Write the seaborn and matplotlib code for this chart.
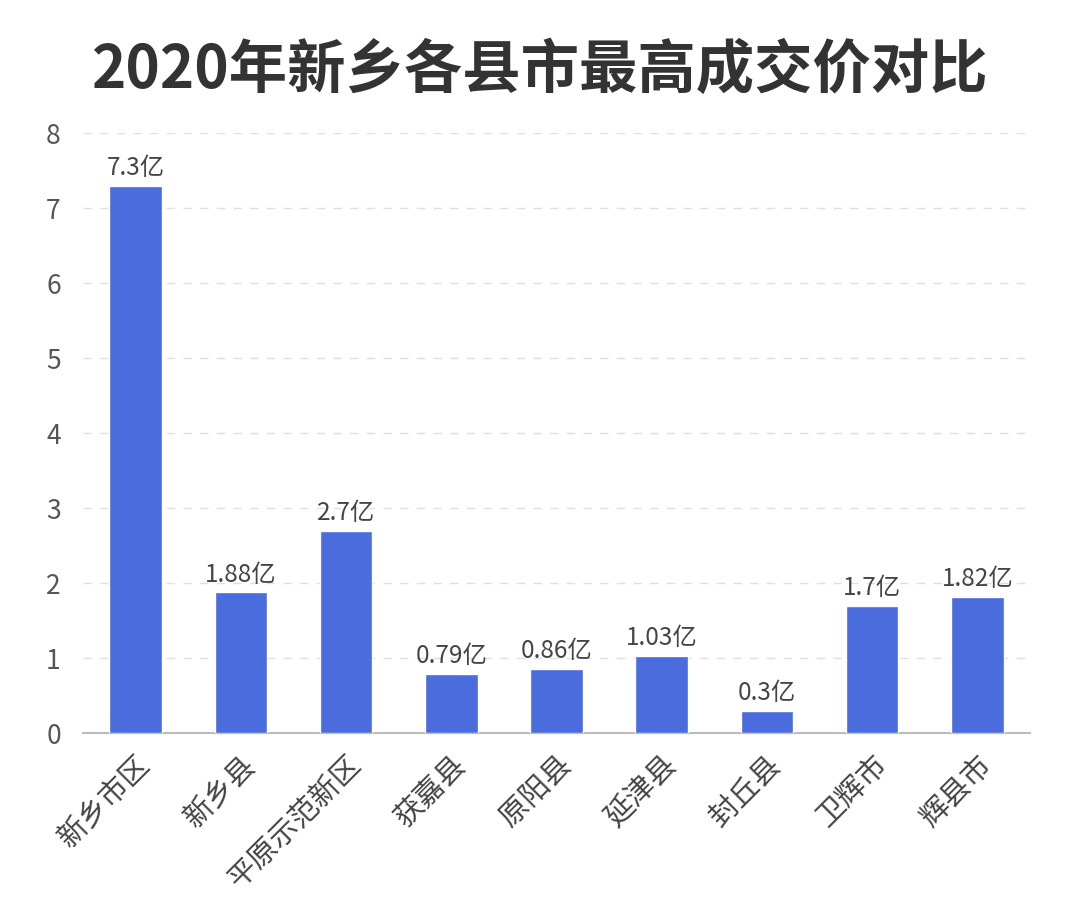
import matplotlib
matplotlib.use("Agg")
import matplotlib.pyplot as plt
import seaborn as sns
import pandas as pd

categories = ["新乡市区", "新乡县", "平原示范新区", "获嘉县", "原阳县", "延津县", "封丘县", "卫辉市", "辉县市"]
values = [7.3, 1.88, 2.7, 0.79, 0.86, 1.03, 0.3, 1.7, 1.82]
labels = ["7.3亿", "1.88亿", "2.7亿", "0.79亿", "0.86亿", "1.03亿", "0.3亿", "1.7亿", "1.82亿"]
yticks = [0, 1, 2, 3, 4, 5, 6, 7, 8]

sns.set_style("white")
plt.rcParams['font.family'] = ['Noto Sans CJK SC', 'DejaVu Sans']

df = pd.DataFrame({"cat": categories, "val": values})

fig = plt.figure(figsize=(10.8, 9.05), dpi=100)
ax = fig.add_axes([0.0769, 0.190, 0.8768, 0.663])

sns.barplot(data=df, x="cat", y="val", color="#4A6CDC", saturation=1, width=0.5, ax=ax, zorder=3)

ax.set_ylim(0, 8)
ax.set_yticks(yticks)
ax.set_xlim(-0.5, len(categories) - 0.5)
ax.set_xlabel("")
ax.set_ylabel("")

for y in yticks[1:]:
    ax.axhline(y, color="#E0E0E0", linestyle=(0, (6, 6)), linewidth=1, zorder=1)

for sp in ["top", "right", "left"]:
    ax.spines[sp].set_visible(False)
ax.spines["bottom"].set_color("#BBBBBB")
ax.spines["bottom"].set_linewidth(1.5)

ax.tick_params(axis="y", length=0, labelsize=19, labelcolor="#555555", pad=16)
ax.tick_params(axis="x", length=6, color="#BBBBBB", labelsize=21, labelcolor="#444444", pad=6)
plt.setp(ax.get_xticklabels(), rotation=45, ha="right", rotation_mode="anchor")

for i, (v, lab) in enumerate(zip(values, labels)):
    ax.text(i, v + 0.06, lab, ha="center", va="bottom", fontsize=17.5, color="#444444")

fig.text(0.5, 0.922, "2020年新乡各县市最高成交价对比", ha="center", va="center",
         fontsize=42, fontweight="bold", color="#333333")

fig.savefig("out.png", dpi=100, facecolor="white")
